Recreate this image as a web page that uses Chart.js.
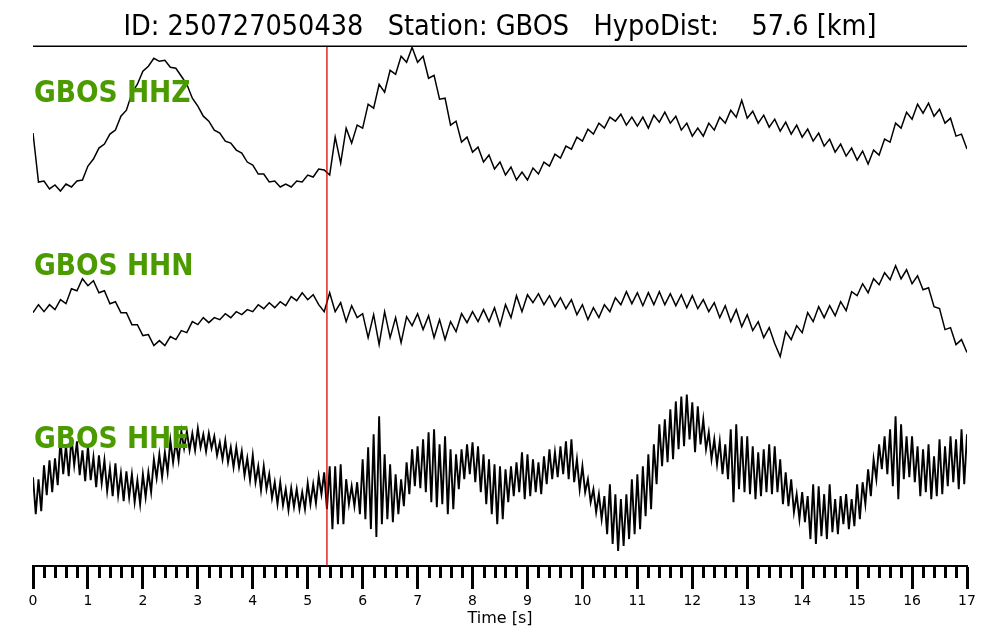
<!DOCTYPE html>
<html>
<head>
<meta charset="utf-8">
<script src="https://cdn.jsdelivr.net/npm/chart.js@4/dist/chart.umd.min.js"></script>
<style>
  html, body { margin: 0; padding: 0; background: #fff; }
  #wrap { width: 1000px; height: 640px; position: relative; }
</style>
</head>
<body>
<div id="wrap"><canvas id="seis"></canvas></div>
<script>
// Estación / evento
const EVENT_ID = '250727050438';
const STATION = 'GBOS';
const HYPO_DIST_KM = 57.6;
const P_PICK_S = 5.35;

const CHANNELS = ['HHZ', 'HHN', 'HHE'];
const TIME_TICKS = [0, 1, 2, 3, 4, 5, 6, 7, 8, 9, 10, 11, 12, 13, 14, 15, 16, 17];
const MINOR_STEP = 0.2;

const DT_HHZ = 0.1;
const HHZ = [
  -13, -62, -61, -69, -65, -71, -64, -67, -61, -60,
  -46, -39, -28, -24, -14, -10, 4, 10, 27, 36,
  49, 54, 62, 59, 60, 53, 52, 44, 36, 22,
  14, 4, -1, -10, -13, -21, -23, -30, -33, -42,
  -45, -54, -54, -62, -61, -67, -64, -67, -61, -62,
  -55, -57, -49, -50, -55, -17, -43, -8, -23, -5,
  -8, 16, 12, 36, 28, 50, 46, 64, 58, 73,
  58, 64, 42, 45, 21, 22, -5, -1, -22, -17,
  -32, -27, -42, -35, -49, -42, -55, -47, -60, -52,
  -60, -48, -54, -42, -46, -34, -38, -26, -29, -17,
  -21, -9, -14, -3, -8, 3, -1, 6, -5, 3,
  -6, 3, -8, 5, -2, 8, -3, 4, -10, -3,
  -16, -8, -16, -3, -10, 3, -3, 10, 3, 20,
  2, 9, -3, 5, -7, 1, -11, -2, -14, -5,
  -17, -9, -21, -13, -26, -19, -32, -24, -36, -28,
  -40, -31, -44, -30, -35, -19, -22, -3, -8, 8,
  1, 16, 7, 17, 4, 11, -3, 2, -16, -14,
  -29
];

const DT_HHN = 0.1;
const HHN = [
  -3, 5, -2, 5, 0, 10, 6, 21, 19, 31,
  24, 29, 17, 19, 6, 8, -3, -3, -15, -15,
  -26, -25, -36, -31, -36, -27, -30, -21, -23, -12,
  -15, -8, -13, -8, -10, -4, -8, -2, -5, 0,
  -2, 5, 1, 7, 2, 8, 4, 13, 9, 17,
  10, 15, 5, -2, 17, -2, 7, -12, 4, -8,
  -4, -28, -5, -35, -2, -28, -8, -33, -7, -16,
  -4, -20, -6, -28, -10, -30, -12, -22, -4, -13,
  -2, -12, 0, -12, 2, -16, 5, -8, 14, -2,
  15, 7, 16, 5, 14, 3, 12, 1, 10, -5,
  5, -10, 2, -8, 5, -2, 12, 5, 18, 6,
  17, 4, 17, 5, 18, 5, 16, 4, 15, 2,
  14, 1, 10, -2, 7, -8, 4, -12, 0, -17,
  -5, -21, -12, -28, -18, -34, -47, -22, -30, -16,
  -23, -3, -12, 3, -8, 4, -6, 8, -1, 18,
  14, 26, 17, 31, 25, 37, 30, 44, 31, 40,
  26, 34, 20, 22, 3, 1, -20, -18, -35, -30,
  -43
];

const DT_HHE = 0.05;
const HHE = [
  -3, -40, -5, -37, 9, -21, 14, -18, 16, -11,
  35, 0, 29, -2, 37, 9, 33, -1, 24, -7,
  28, -6, 17, -13, 19, -9, 14, -17, 6, -22,
  11, -21, 1, -27, 3, -23, 0, -28, -6, -30,
  0, -23, 2, -18, 15, -4, 20, -3, 22, 2,
  34, 12, 33, 14, 43, 26, 43, 24, 41, 24,
  46, 27, 40, 23, 41, 26, 38, 19, 32, 15,
  34, 12, 27, 7, 27, 7, 23, -1, 16, -6,
  19, -8, 8, -16, 8, -15, 0, -24, -8, -30,
  -8, -31, -15, -36, -14, -33, -15, -35, -18, -35,
  -9, -30, -10, -29, -2, -20, 2, -35, 8, -55,
  8, -50, 10, -50, -5, -30, -12, -32, -8, -40,
  15, -45, 27, -55, 40, -63, 58, -50, 20, -45,
  10, -48, 0, -40, -5, -32, 12, -20, 25, -12,
  28, -14, 35, -18, 42, -28, 45, -33, 30, -30,
  38, -40, 25, -35, 20, -15, 25, -5, 30, 0,
  32, -8, 28, -18, 20, -30, 15, -40, 10, -50,
  8, -45, 5, -28, 8, -22, 12, -18, 22, -25,
  20, -22, 15, -18, 12, -20, 18, -10, 25, -5,
  22, -3, 28, 0, 33, -5, 35, -8, 15, -15,
  8, -18, -5, -28, -15, -38, -20, -45, -22, -60,
  -10, -70, -20, -77, -25, -72, -20, -65, -5, -60,
  0, -55, 8, -42, 20, -35, 30, -10, 50, 8,
  55, 12, 65, 15, 73, 25, 78, 28, 80, 35,
  72, 22, 68, 30, 55, 25, 42, 15, 35, 10,
  33, 0, 30, -5, 45, -28, 50, -15, 38, -18,
  38, -20, 28, -25, 22, -22, 25, -18, 30, -20,
  28, -18, 15, -30, 2, -32, -5, -38, -20, -45,
  -18, -48, -22, -65, -10, -70, -12, -62, -20, -65,
  -10, -58, -25, -60, -22, -50, -20, -55, -25, -52,
  -10, -45, -8, -30, 5, -22, 15, -5, 30, 5,
  38, 0, 45, -12, 58, -25, 50, -5, 38, -3,
  38, -8, 28, -22, 25, -18, 30, -25, 18, -22,
  35, -20, 28, -12, 38, -8, 35, -15, 45, -10,
  40
];

// Desplazamiento vertical de cada traza dentro del panel
const Y_MAX = 521;
const TRACE_OFFSET = { HHZ: 447, HHN: 257, HHE: 92 };

/**
 * Convierte una serie muestreada en puntos {x, y}
 */
function toPoints(amps, dt, offset) {
  return amps.map((a, i) => ({ x: Math.round(i * dt * 100) / 100, y: offset + a }));
}

const traceStyle = {
  borderColor: '#000',
  borderWidth: 1.5,
  pointRadius: 0,
  fill: false,
  tension: 0
};

/**
 * Etiquetas de canal, línea superior y ticks menores
 */
const seismoDecor = {
  id: 'seismoDecor',
  afterDatasetsDraw(chart) {
    const { ctx, chartArea, scales } = chart;
    ctx.save();
    // línea superior
    ctx.strokeStyle = '#000';
    ctx.lineWidth = 1.5;
    ctx.beginPath();
    ctx.moveTo(chartArea.left, chartArea.top);
    ctx.lineTo(chartArea.right, chartArea.top);
    ctx.stroke();

    // etiquetas de canal
    ctx.fillStyle = '#4a9a00';
    ctx.font = 'bold 29.5px "DejaVu Sans Condensed", "DejaVu Sans"';
    ctx.textBaseline = 'alphabetic';
    const baselines = { HHZ: 102, HHN: 275, HHE: 448 };
    CHANNELS.forEach(ch => {
      ctx.fillText(STATION + ' ' + ch, chartArea.left + 1, baselines[ch]);
    });

    // ticks menores
    const x = scales.x;
    ctx.strokeStyle = '#000';
    ctx.lineWidth = 3;
    ctx.beginPath();
    for (let k = 0; k * MINOR_STEP <= x.max + 1e-9; k++) {
      if (k % 5 === 0) continue;
      const px = Math.round(x.getPixelForValue(k * MINOR_STEP)) + 0.5;
      ctx.moveTo(px, chartArea.bottom);
      ctx.lineTo(px, chartArea.bottom + 12);
    }
    ctx.stroke();
    ctx.restore();
  }
};

Chart.defaults.font.family = '"DejaVu Sans", sans-serif';
Chart.defaults.color = '#000';

new Chart(document.getElementById('seis'), {
  type: 'line',
  data: {
    datasets: [
      {
        label: 'P',
        data: [{ x: P_PICK_S, y: 0 }, { x: P_PICK_S, y: Y_MAX }],
        borderColor: '#e00000',
        borderWidth: 1.3,
        pointRadius: 0
      },
      { label: 'HHZ', data: toPoints(HHZ, DT_HHZ, TRACE_OFFSET.HHZ), ...traceStyle },
      { label: 'HHN', data: toPoints(HHN, DT_HHN, TRACE_OFFSET.HHN), ...traceStyle },
      { label: 'HHE', data: toPoints(HHE, DT_HHE, TRACE_OFFSET.HHE), ...traceStyle, borderWidth: 1.9 }
    ]
  },
  options: {
    responsive: true,
    maintainAspectRatio: false,
    animation: false,
    layout: { padding: { left: 33, right: 33, top: 0, bottom: 12 } },
    plugins: {
      legend: { display: false },
      tooltip: { enabled: false },
      title: {
        display: true,
        text: 'ID: ' + EVENT_ID + '   Station: ' + STATION + '   HypoDist:    ' + HYPO_DIST_KM.toFixed(1) + ' [km]',
        font: { family: '"DejaVu Sans Condensed", "DejaVu Sans"', size: 28.5, weight: 'normal', lineHeight: 1.1 },
        color: '#000',
        padding: { top: 12, bottom: 3 }
      }
    },
    scales: {
      x: {
        type: 'linear',
        min: 0,
        max: 17,
        afterBuildTicks: axis => { axis.ticks = TIME_TICKS.map(v => ({ value: v })); },
        grid: {
          drawOnChartArea: false,
          drawTicks: true,
          tickLength: 23,
          tickWidth: 3,
          tickColor: '#000'
        },
        border: { display: true, color: '#000', width: 2 },
        ticks: { font: { size: 14 }, color: '#000', padding: 4, maxRotation: 0, autoSkip: false },
        title: { display: true, text: 'Time [s]', font: { size: 16 }, color: '#000', padding: { top: -5, bottom: 0 } }
      },
      y: {
        display: false,
        min: 0,
        max: Y_MAX
      }
    }
  },
  plugins: [seismoDecor]
});
</script>
</body>
</html>
